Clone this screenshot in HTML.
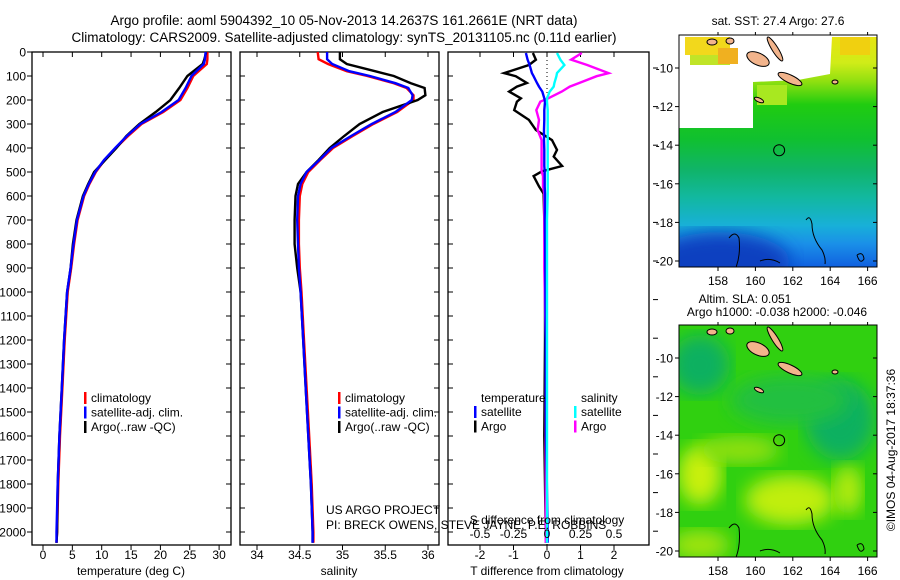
<!DOCTYPE html>
<html><head><meta charset="utf-8"><style>
html,body{margin:0;padding:0;background:#fff;}
svg{display:block;font-family:"Liberation Sans",sans-serif;}
</style></head><body>
<svg id="chart" width="900" height="580" viewBox="0 0 900 580" xmlns="http://www.w3.org/2000/svg">
<g font-size="13.5" text-anchor="middle">
<text x="344" y="25">Argo profile: aoml 5904392_10 05-Nov-2013 14.2637S 161.2661E (NRT data)</text>
<text x="344" y="42">Climatology: CARS2009. Satellite-adjusted climatology: synTS_20131105.nc (0.11d earlier)</text>
</g>
<g id="panels"></g>
<g id="maps"></g>
</svg>
<script>
// ---- data ----
const tDepth = [0,30,50,100,150,200,250,300,350,400,450,500,550,600,700,800,900,1000,1200,1400,1600,1800,2000,2045];
const tClim  = [28.0,28.0,27.9,25.6,24.6,23.4,20.5,16.8,14.5,12.4,10.5,9.0,7.9,7.0,5.9,5.3,4.8,4.2,3.7,3.3,2.9,2.6,2.4,2.3];
const tSat   = [27.7,27.6,27.4,25.3,24.3,23.1,20.2,16.6,14.3,12.3,10.4,8.9,7.8,6.9,5.8,5.2,4.7,4.1,3.6,3.2,2.8,2.5,2.3,2.3];
const tArgo  = [27.8,27.5,27.2,24.6,23.2,21.7,19.2,16.4,14.2,12.5,10.6,8.7,7.7,6.8,5.7,5.1,4.7,4.1,3.6,3.2,2.8,2.5,2.4,2.3];
const sDepth = [0,30,50,80,100,130,150,180,200,250,300,350,400,450,500,550,600,700,800,900,1000,1200,1400,1600,1800,2000,2045];
const sClim  = [34.71,34.72,34.83,35.05,35.29,35.6,35.75,35.83,35.83,35.64,35.36,35.12,34.89,34.74,34.6,34.53,34.5,34.49,34.49,34.5,34.52,34.55,34.58,34.61,34.64,34.66,34.66];
const sSat   = [34.82,34.82,34.88,35.08,35.32,35.62,35.77,35.82,35.81,35.62,35.34,35.1,34.87,34.73,34.58,34.51,34.48,34.47,34.48,34.49,34.51,34.54,34.57,34.6,34.63,34.65,34.65];
const sArgo  = [34.97,34.97,35.05,35.38,35.6,35.8,35.96,35.97,35.88,35.47,35.2,35.02,34.85,34.72,34.58,34.48,34.45,34.44,34.44,34.47,34.51,34.54,34.57,34.6,34.63,34.65,34.65];
const dDepth = [4,32,54,88,101,129,144,165,193,207,242,283,325,367,408,436,475,497,517,560,590,700,900,1200,1600,2000,2045];
const dTSat  = [-0.63,-0.58,-0.52,-0.45,-0.4,-0.3,-0.24,-0.14,-0.08,-0.06,-0.08,-0.08,-0.09,-0.09,-0.08,-0.08,-0.08,-0.07,-0.07,-0.07,-0.06,-0.06,-0.05,-0.04,-0.03,0.02,0.02];
const dTArgo = [-0.42,-0.33,-0.54,-1.28,-0.93,-0.6,-0.9,-1.13,-0.78,-0.9,-0.98,-0.54,-0.33,0.15,0.3,0.2,0.45,-0.15,-0.4,-0.24,-0.1,-0.08,-0.06,-0.06,-0.08,-0.04,-0.04];
const dSSat  = [0.075,0.1,0.13,0.075,0.07,0.055,0.05,0.02,0.0,0.0,0.005,0.005,0.005,0.005,0.005,0.005,0.005,0.005,0.005,0.005,0.005,0.0,0.0,0.0,0.0,0.0,0.0];
const dSArgo = [0.26,0.18,0.3,0.46,0.37,0.24,0.17,0.11,0.01,-0.05,-0.08,-0.06,-0.07,-0.04,-0.04,-0.04,-0.04,-0.04,-0.03,-0.03,-0.02,-0.02,-0.02,-0.01,-0.01,-0.01,-0.01];
const depthTicks = [0,100,200,300,400,500,600,700,800,900,1000,1100,1200,1300,1400,1500,1600,1700,1800,1900,2000];
const tTicks = [0,5,10,15,20,25,30];
const sTicks = [34,34.5,35,35.5,36];
const dTTicks = [-2,-1,0,1,2];
const dSTicks = [-0.5,-0.25,0,0.25,0.5];
const dSTickLabels = ["-0.5","-0.25","0","0.25","0.5"];
const latTicks = [-10,-12,-14,-16,-18,-20];
const lonTicks = [158,160,162,164,166];

const NS='http://www.w3.org/2000/svg';
const yD = d => 52 + d*0.24;
const xT = v => 43 + v*5.87;
const xS = v => 257 + (v-34)*85.5;
const xDT = v => 547 + v*33.5;
const xDS = v => 547 + v*134;
const PT=52, PB=545;
function mk(tag, attrs, parent, text){
  const e=document.createElementNS(NS,tag);
  for(const k in attrs) e.setAttribute(k,attrs[k]);
  if(text!==undefined) e.textContent=text;
  parent.appendChild(e); return e;
}
const panels=document.getElementById('panels');
function line(xf, depths, vals, color, name, g){
  const pts=depths.map((d,i)=>xf(vals[i]).toFixed(1)+','+yD(d).toFixed(1)).join(' ');
  const p=mk('polyline',{points:pts,fill:'none',stroke:color,'stroke-width':2.4},g);
  
  
}
function panel(x0,x1,name){
  const g=mk('g',{},panels);
  
  
  const r=mk('rect',{x:x0,y:PT,width:x1-x0,height:PB-PT,fill:'none',stroke:'#000','stroke-width':1.3},g);
  
  
  return g;
}
// panel 1 temperature
const g1=panel(32,231,'temperature-panel');
const ya=mk('g',{'font-size':12,'text-anchor':'end'},g1);


depthTicks.forEach(d=>{
  mk('line',{x1:32,x2:27,y1:yD(d),y2:yD(d),stroke:'#000'},ya);
  mk('line',{x1:231,x2:226,y1:yD(d),y2:yD(d),stroke:'#000'},ya);
  const t=mk('text',{x:26,y:yD(d)+4.5},ya,String(d));
  
  
});
tTicks.forEach(v=>{
  mk('line',{x1:xT(v),x2:xT(v),y1:PT,y2:PT+5,stroke:'#000'},g1);
  mk('line',{x1:xT(v),x2:xT(v),y1:PB,y2:PB+5,stroke:'#000'},g1);
  const t=mk('text',{x:xT(v),y:559,'font-size':12,'text-anchor':'middle'},g1,String(v));
  
  
});
const tt=mk('text',{x:131,y:575,'font-size':12,'text-anchor':'middle'},g1,'temperature (deg C)');


line(xT,tDepth,tClim,'#ff0000','temperature-climatology-line',g1);
line(xT,tDepth,tArgo,'#000000','temperature-argo-line',g1);
line(xT,tDepth,tSat,'#0000ff','temperature-satellite-line',g1);
// panel 2 salinity
const g2=panel(240,439,'salinity-panel');
depthTicks.forEach(d=>{
  mk('line',{x1:240,x2:245,y1:yD(d),y2:yD(d),stroke:'#000'},g2);
  mk('line',{x1:439,x2:434,y1:yD(d),y2:yD(d),stroke:'#000'},g2);
});
sTicks.forEach(v=>{
  mk('line',{x1:xS(v),x2:xS(v),y1:PT,y2:PT+5,stroke:'#000'},g2);
  mk('line',{x1:xS(v),x2:xS(v),y1:PB,y2:PB+5,stroke:'#000'},g2);
  const t=mk('text',{x:xS(v),y:559,'font-size':12,'text-anchor':'middle'},g2,String(v));
  
  
});
const st=mk('text',{x:339,y:575,'font-size':12,'text-anchor':'middle'},g2,'salinity');


line(xS,sDepth,sClim,'#ff0000','salinity-climatology-line',g2);
line(xS,sDepth,sArgo,'#000000','salinity-argo-line',g2);
line(xS,sDepth,sSat,'#0000ff','salinity-satellite-line',g2);
// panel 3 differences
const g3=panel(448,649,'difference-panel');
mk('line',{x1:547,x2:547,y1:PT,y2:PB,stroke:'#000','stroke-dasharray':'1,3'},g3);
depthTicks.forEach(d=>{
  mk('line',{x1:448,x2:453,y1:yD(d),y2:yD(d),stroke:'#000'},g3);
});
for(let y=68;y<556;y+=38.6){ mk('line',{x1:653,x2:658,y1:y,y2:y,stroke:'#000'},g3); }
dTTicks.forEach(v=>{
  mk('line',{x1:xDT(v),x2:xDT(v),y1:PT,y2:PT+5,stroke:'#000'},g3);
  mk('line',{x1:xDT(v),x2:xDT(v),y1:PB,y2:PB+5,stroke:'#000'},g3);
  const t=mk('text',{x:xDT(v),y:559,'font-size':12,'text-anchor':'middle'},g3,String(v));
  
  
});
const dt=mk('text',{x:547,y:575,'font-size':12,'text-anchor':'middle'},g3,'T difference from climatology');


line(xDT,dDepth,dTArgo,'#000000','t-difference-argo-line',g3);
line(xDS,dDepth,dSArgo,'#ff00ff','s-difference-argo-line',g3);
line(xDT,dDepth,dTSat,'#0000ff','t-difference-satellite-line',g3);
line(xDS,dDepth,dSSat,'#00ffff','s-difference-satellite-line',g3);
dSTicks.forEach((v,i)=>{
  const t=mk('text',{x:xDS(v),y:538,'font-size':12,'text-anchor':'middle'},g3,dSTickLabels[i]);
  
  
});
const ds=mk('text',{x:547,y:524,'font-size':12,'text-anchor':'middle'},g3,'S difference from climatology');


// legends
function legend(g,x,y,entries,name){
  const lg=mk('g',{'font-size':12},g);
  
  
  entries.forEach((e,i)=>{
    if(e[1]) mk('rect',{x:x,y:y+i*14.5-10,width:2.5,height:12,fill:e[1]},lg);
    const t=mk('text',{x:x+(e[1]?7:0),y:y+i*14.5},lg,e[0]);
    
    
  });
}
legend(g1,84,402,[['climatology','#ff0000'],['satellite-adj. clim.','#0000ff'],['Argo(..raw -QC)','#000000']],'temperature-legend');
legend(g2,338,402,[['climatology','#ff0000'],['satellite-adj. clim.','#0000ff'],['Argo(..raw -QC)','#000000']],'salinity-legend');
legend(g3,481,402,[['temperature',null]],'difference-legend-temperature-header');
legend(g3,474,416,[['satellite','#0000ff'],['Argo','#000000']],'difference-legend-temperature');
legend(g3,581,402,[['salinity',null]],'difference-legend-salinity-header');
legend(g3,574,416,[['satellite','#00ffff'],['Argo','#ff00ff']],'difference-legend-salinity');
const cr=mk('g',{'font-size':12},panels);


mk('text',{x:326,y:514},cr,'US ARGO PROJECT');
mk('text',{x:326,y:529},cr,'PI: BRECK OWENS, STEVE JAYNE, P.E. ROBBINS');

// ---- maps ----
const maps=document.getElementById('maps');
const lonX = l => 718 + (l-158)*18.7;
function mapPanel(y0,name,latY,fillFn){
  const g=mk('g',{},maps);
  
  
  const cid=name+'-clip';
  const cp=mk('clipPath',{id:cid},g);
  mk('rect',{x:679,y:y0,width:198,height:232},cp);
  const inner=mk('g',{'clip-path':'url(#'+cid+')'},g);
  fillFn(inner);
  const dy=y0-35;
  // islands
  [[758,59,12,6,25],[775,49,3,14,-32],[790,79,13,4,25],[759,100,5,2,25],[712,42,5,3,0],[730,41,4,3,0],[835,82,3,2,0]].forEach(a=>{
    mk('ellipse',{cx:a[0],cy:a[1]+dy,rx:a[2],ry:a[3],transform:`rotate(${a[4]} ${a[0]} ${a[1]+dy})`,fill:'#f2b48c',stroke:'#000','stroke-width':1},inner);
  });
  mk('path',{d:`M729 ${y0+203} q6 -8 10 0 q2 18 -4 32 M806 ${y0+185} q4 -6 6 4 q0 14 10 26 q4 8 3 14 M857 ${y0+220} q6 -4 7 4 q-4 6 -7 -4 M760 ${y0+226} q10 -4 20 2`,fill:'none',stroke:'#000','stroke-width':1},inner);
  const c=mk('circle',{cx:lonX(161.27),cy:latY(-14.26),r:5.5,fill:'none',stroke:'#000','stroke-width':1},g);
  
  
  mk('rect',{x:679,y:y0,width:198,height:232,fill:'none',stroke:'#000','stroke-width':1},g);
  latTicks.forEach(v=>{
    mk('line',{x1:679,x2:675,y1:latY(v),y2:latY(v),stroke:'#000'},g);
    mk('line',{x1:877,x2:873,y1:latY(v),y2:latY(v),stroke:'#000'},g);
    const t=mk('text',{x:673,y:latY(v)+4.5,'font-size':12,'text-anchor':'end'},g,String(v));
    
    
  });
  lonTicks.forEach(v=>{
    mk('line',{x1:lonX(v),x2:lonX(v),y1:y0,y2:y0-3,stroke:'#000'},g);
    mk('line',{x1:lonX(v),x2:lonX(v),y1:y0+232,y2:y0+236,stroke:'#000'},g);
    const t=mk('text',{x:lonX(v),y:y0+250,'font-size':12,'text-anchor':'middle'},g,String(v));
    
    
  });
  return g;
}
const lat1 = v => 68 + (-10 - v)*19.3;
const lat2 = v => 358 + (-10 - v)*19.3;
const defs=mk('defs',{},maps);
const lg1=mk('linearGradient',{id:'sst',x1:0,y1:35,x2:0,y2:267,gradientUnits:'userSpaceOnUse'},defs);
[['0','#e8e410'],['0.12','#d0ec18'],['0.2','#90e010'],['0.3','#20cc10'],['0.45','#10c030'],['0.58','#10b468'],['0.7','#12b8a0'],['0.82','#18b0d8'],['0.9','#1a90e8'],['1','#1060e0']].forEach(s=>mk('stop',{offset:s[0],'stop-color':s[1]},lg1));
const bl=mk('filter',{id:'blur'},defs); mk('feGaussianBlur',{stdDeviation:9},bl);
mapPanel(35,'sst-map',lat1,g=>{
  mk('rect',{x:679,y:35,width:198,height:232,fill:'#fff'},g);
  mk('path',{d:'M679 128 L753 128 L753 82 L798 80 L830 74 L832 37 L877 37 L877 267 L679 267 Z',fill:'url(#sst)'},g);
  mk('rect',{x:679,y:90,width:40,height:38,fill:'#fff'},g);
  mk('rect',{x:740,y:105,width:13,height:23,fill:'#fff'},g);
  mk('rect',{x:737,y:120,width:16,height:8,fill:'#fff'},g);
  mk('rect',{x:685,y:37,width:45,height:18,fill:'#f2d81c'},g);
  mk('rect',{x:690,y:55,width:40,height:10,fill:'#c0e428'},g);
  mk('rect',{x:718,y:48,width:20,height:16,fill:'#f0b020'},g);
  mk('rect',{x:840,y:37,width:30,height:18,fill:'#f0d010'},g);
  mk('rect',{x:757,y:85,width:30,height:20,fill:'#a8e820'},g);
  mk('ellipse',{cx:720,cy:262,rx:70,ry:30,fill:'#0840c0',filter:'url(#blur)'},g);
});
const sat=mk('text',{x:778,y:25,'font-size':12,'text-anchor':'middle'},maps,'sat. SST: 27.4  Argo: 27.6');


mapPanel(325,'sla-map',lat2,g=>{
  mk('rect',{x:679,y:325,width:198,height:232,fill:'#30d010'},g);
  mk('ellipse',{cx:700,cy:365,rx:30,ry:30,fill:'#10b060',filter:'url(#blur)'},g);
  mk('ellipse',{cx:840,cy:420,rx:35,ry:40,fill:'#10b060',filter:'url(#blur)'},g);
  mk('ellipse',{cx:790,cy:400,rx:60,ry:25,fill:'#20c040',filter:'url(#blur)'},g);
  mk('ellipse',{cx:700,cy:475,rx:22,ry:30,fill:'#c8f010',filter:'url(#blur)'},g);
  mk('ellipse',{cx:790,cy:500,rx:45,ry:25,fill:'#c0ee10',filter:'url(#blur)'},g);
  mk('ellipse',{cx:848,cy:490,rx:14,ry:25,fill:'#b8ec10',filter:'url(#blur)'},g);
  mk('ellipse',{cx:740,cy:450,rx:40,ry:14,fill:'#90e010',filter:'url(#blur)'},g);
  mk('ellipse',{cx:700,cy:545,rx:30,ry:15,fill:'#a0e410',filter:'url(#blur)'},g);
});
const sla=mk('g',{'font-size':12,'text-anchor':'middle'},maps);


mk('text',{x:745,y:303},sla,'Altim. SLA: 0.051');
mk('text',{x:777,y:316},sla,'Argo h1000: -0.038 h2000: -0.046');
const ts=mk('text',{x:895,y:450,'font-size':12,'text-anchor':'middle',transform:'rotate(-90 895 450)'},maps,'©IMOS 04-Aug-2017 18:37:36');


</script>
</body></html>
